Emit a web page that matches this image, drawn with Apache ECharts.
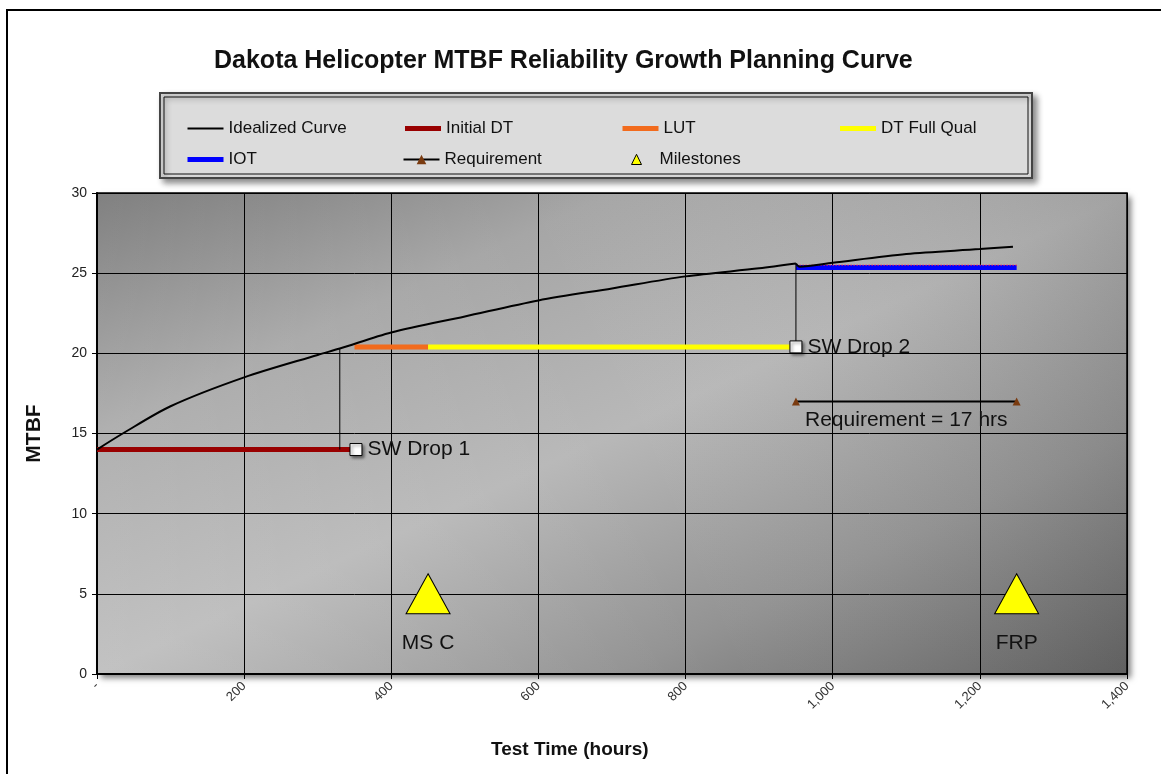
<!DOCTYPE html>
<html>
<head>
<meta charset="utf-8">
<script src="https://cdn.jsdelivr.net/npm/echarts@6.0.0/dist/echarts.min.js"></script>
<style>
  html, body { margin: 0; padding: 0; background: #fff; }
  #main { width: 1161px; height: 774px; }
</style>
</head>
<body>
<div id="main"></div>
<script>
// idealized growth curve (second segment starts after SW drop 2)
const curveX = [0, 35, 100, 200, 300, 330, 400, 500, 600, 700, 800, 900, 950, 955, 1000, 1100, 1200, 1245]
const curveY = [14.0, 15.0, 16.7, 18.5, 19.9, 20.3, 21.3, 22.3, 23.3, 24.05, 24.8, 25.3, 25.6, 25.4, 25.65, 26.2, 26.5, 26.65]
const curveBreak = 13

// test phases [start, end, MTBF]
const initialDT = [0, 350, 14]
const lut = [350, 450, 20.4]
const dtFullQual = [450, 950, 20.4]
const iot = [950, 1250, 25.35]
const iotDotted = [955, 1250, 25.5]
const requirement = [950, 1250, 17]
const requirementLabelAt = [1100, 17]

// software drops: vertical drop lines and markers
const dropLines = [[330, 20.3, 14], [950, 25.6, 20.4]]
const swDrops = [[352, 14, "SW Drop 1"], [950, 20.4, "SW Drop 2"]]

// milestones
const milestones = [[450, 5, "MS C"], [1250, 5, "FRP"]]

const legendNames = ["Idealized Curve", "Initial DT", "LUT", "DT Full Qual", "IOT", "Requirement", "Milestones"]

const FONT = "Liberation Sans, Arial, sans-serif"
const chart = echarts.init(document.getElementById("main"))

function seg(p) {
  return [[p[0], p[2]], [p[1], p[2]]]
}

const curvePts = curveX.map(function (x, i) { return [x, curveY[i]] })

const dropSeries = dropLines.map(function (d) {
  return {
    type: "line",
    name: "drop",
    data: [[d[0], d[1]], [d[0], d[2]]],
    symbol: "none",
    lineStyle: { color: "#000", width: 1 },
    z: 3,
    silent: true
  }
})

// small milestone triangle for the legend, so it is not stretched
const triIcon = "image://data:image/svg+xml;utf8," + encodeURIComponent(
  "<svg xmlns='http://www.w3.org/2000/svg' width='36' height='12'>" +
  "<path d='M18 0.8 L23 11 L13 11 Z' fill='#ffff00' stroke='#000' stroke-width='1'/></svg>"
)

// legend items: thick lines without the dot, requirement keeps its triangle
const legendData = legendNames.map(function (n, i) {
  const item = { name: n }
  if (i === 0) { item.lineStyle = { width: 2 }; item.itemStyle = { opacity: 0 } }
  if (i >= 1 && i <= 4) { item.lineStyle = { width: 5 }; item.itemStyle = { opacity: 0 } }
  if (i === 6) { item.icon = triIcon }
  return item
})

const option = {
  animation: false,
  title: [
    {
      text: "Dakota Helicopter MTBF Reliability Growth Planning Curve",
      left: 209,
      top: 44,
      textStyle: { fontFamily: FONT, fontSize: 25, fontWeight: "bold", color: "#111" }
    },
    {
      text: "Test Time (hours)",
      left: 486,
      top: 735,
      textStyle: { fontFamily: FONT, fontSize: 19, fontWeight: "bold", color: "#111" }
    }
  ],
  graphic: [
    // outer frame
    { type: "rect", z: -20, shape: { x: 7, y: 10, width: 1200, height: 820 }, style: { fill: "#fff", stroke: "#000", lineWidth: 2 } },
    // legend box
    {
      type: "rect", z: -10,
      shape: { x: 160, y: 93, width: 872, height: 85 },
      style: { fill: "#dcdcdc", stroke: "#444", lineWidth: 2, shadowBlur: 6, shadowOffsetX: 4, shadowOffsetY: 4, shadowColor: "rgba(0,0,0,0.45)" }
    },
    { type: "rect", z: -9, shape: { x: 164, y: 97, width: 864, height: 77 }, style: { fill: "none", stroke: "#111", lineWidth: 1 } },
    // plot background
    {
      type: "rect", z: -10,
      shape: { x: 97, y: 193, width: 1030, height: 481 },
      style: {
        fill: new echarts.graphic.LinearGradient(0, 0, 0.357, 1.643, [
          { offset: 0, color: "#747474" },
          { offset: 0.25, color: "#a6a6a6" },
          { offset: 0.5, color: "#b8b8b8" },
          { offset: 0.75, color: "#939393" },
          { offset: 1, color: "#606060" }
        ]),
        shadowBlur: 6, shadowOffsetX: 4, shadowOffsetY: 4, shadowColor: "rgba(0,0,0,0.5)"
      }
    },
    {
      type: "rect", z: -9,
      shape: { x: 97, y: 193, width: 1030, height: 481 },
      style: {
        fill: new echarts.graphic.LinearGradient(0, 1, 1, 0, [
          { offset: 0, color: "rgba(255,255,255,0.14)" },
          { offset: 0.5, color: "rgba(255,255,255,0)" },
          { offset: 1, color: "rgba(0,0,0,0.12)" }
        ])
      }
    }
  ],
  legend: {
    data: legendData,
    left: 185,
    top: 113,
    width: 880,
    padding: 0,
    itemGap: 0,
    itemWidth: 36,
    itemHeight: 12,
    textStyle: { fontFamily: FONT, fontSize: 17, color: "#111", width: 174, lineHeight: 31 }
  },
  grid: {
    left: 97,
    right: 34,
    top: 193,
    bottom: 100,
    show: true,
    backgroundColor: "transparent",
    borderColor: "#000",
    borderWidth: 1.5
  },
  xAxis: {
    type: "value",
    min: 0,
    max: 1400,
    interval: 200,
    axisLine: { show: true, onZero: false, lineStyle: { color: "#000", width: 2 } },
    axisTick: { show: true, length: 5, lineStyle: { color: "#000" } },
    splitLine: { show: true, lineStyle: { color: "#000", width: 1 } },
    axisLabel: {
      rotate: 45,
      margin: 10,
      fontFamily: FONT,
      fontSize: 13,
      color: "#333",
      formatter: function (v) {
        return v === 0 ? "-" : v.toLocaleString("en-US")
      }
    }
  },
  yAxis: {
    type: "value",
    min: 0,
    max: 30,
    interval: 5,
    name: "MTBF",
    nameLocation: "middle",
    nameGap: 52,
    nameTextStyle: { fontFamily: FONT, fontSize: 21, fontWeight: "bold", color: "#111" },
    axisLine: { show: true, lineStyle: { color: "#000", width: 2 } },
    axisTick: { show: true, length: 5, lineStyle: { color: "#000" } },
    splitLine: { show: true, lineStyle: { color: "#000", width: 1 } },
    axisLabel: { fontFamily: FONT, fontSize: 14, color: "#222", margin: 10 }
  },
  series: [
    {
      name: "Idealized Curve",
      type: "line",
      data: curvePts.slice(0, curveBreak),
      symbol: "none",
      smooth: 0.3,
      lineStyle: { color: "#000", width: 2 },
      itemStyle: { color: "#000" },
      z: 4
    },
    {
      name: "Idealized Curve",
      type: "line",
      data: curvePts.slice(curveBreak - 1),
      symbol: "none",
      smooth: 0.3,
      lineStyle: { color: "#000", width: 2 },
      itemStyle: { color: "#000" },
      z: 4
    },
    {
      name: "Initial DT",
      type: "line",
      data: seg(initialDT),
      symbol: "none",
      lineStyle: { color: "#990000", width: 5 },
      itemStyle: { color: "#990000" }
    },
    {
      name: "LUT",
      type: "line",
      data: seg(lut),
      symbol: "none",
      lineStyle: { color: "#f26b1d", width: 5 },
      itemStyle: { color: "#f26b1d" }
    },
    {
      name: "DT Full Qual",
      type: "line",
      data: seg(dtFullQual),
      symbol: "none",
      lineStyle: { color: "#ffff00", width: 5 },
      itemStyle: { color: "#ffff00" }
    },
    {
      name: "IOT",
      type: "line",
      data: seg(iot),
      symbol: "none",
      lineStyle: { color: "#0000ff", width: 5 },
      itemStyle: { color: "#0000ff" }
    },
    {
      name: "iotTarget",
      type: "line",
      data: seg(iotDotted),
      symbol: "none",
      lineStyle: { color: "#ff2050", width: 1.5, type: [1, 2] },
      silent: true,
      z: 3
    },
    {
      name: "Requirement",
      type: "line",
      data: seg(requirement),
      symbol: "triangle",
      symbolSize: 8,
      showSymbol: true,
      lineStyle: { color: "#000", width: 2 },
      itemStyle: { color: "#7a3b10" }
    },
    {
      name: "reqLabel",
      type: "scatter",
      data: [requirementLabelAt],
      symbolSize: 0,
      silent: true,
      itemStyle: { opacity: 1 },
      label: {
        show: true,
        position: "bottom",
        distance: 8,
        formatter: "Requirement = " + requirement[2] + " hrs",
        fontFamily: FONT,
        fontSize: 21,
        color: "#111"
      }
    },
    {
      name: "Milestones",
      type: "scatter",
      data: milestones.map(function (m) { return { value: [m[0], m[1]], name: m[2] } }),
      symbol: "triangle",
      symbolSize: [44, 40],
      itemStyle: { color: "#ffff00", borderColor: "#000", borderWidth: 1, opacity: 1 },
      label: {
        show: true,
        position: "bottom",
        distance: 18,
        formatter: "{b}",
        fontFamily: FONT,
        fontSize: 21,
        color: "#111"
      },
      z: 5
    },
    {
      name: "swDrops",
      type: "scatter",
      data: swDrops.map(function (d) { return { value: [d[0], d[1]], name: d[2] } }),
      symbol: "rect",
      symbolSize: 12,
      itemStyle: {
        color: "#fff", borderColor: "#000", borderWidth: 1, opacity: 1,
        shadowBlur: 3, shadowOffsetX: 2, shadowOffsetY: 2, shadowColor: "rgba(0,0,0,0.5)"
      },
      label: {
        show: true,
        position: "right",
        distance: 5,
        formatter: "{b}",
        fontFamily: FONT,
        fontSize: 21,
        color: "#111"
      },
      z: 6
    }
  ].concat(dropSeries)
}

chart.setOption(option)
</script>
</body>
</html>
